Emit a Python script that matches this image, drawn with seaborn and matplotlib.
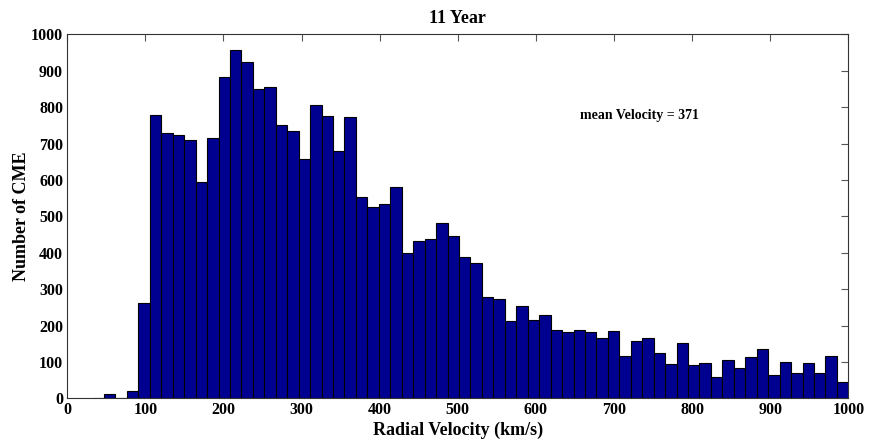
import numpy as np
import pandas as pd
import matplotlib
matplotlib.use('Agg')
import matplotlib.pyplot as plt
import seaborn as sns

# histogram counts (66 bins, 32.4 .. 1000 km/s)
counts = [2, 12, 2, 19, 263, 777, 728, 724, 710, 594, 715, 882, 957, 925, 850,
          855, 750, 735, 657, 807, 776, 679, 772, 554, 525, 533, 580, 399, 431,
          438, 482, 446, 387, 373, 277, 273, 212, 254, 216, 230, 187, 183, 187,
          181, 165, 186, 116, 157, 165, 124, 94, 151, 91, 96, 58, 106, 84, 113,
          136, 63, 101, 70, 96, 70, 116, 45]
bin_lo = 32.4
bin_hi = 1000.0
mean_velocity = 371
x_ticks = list(range(0, 1001, 100))
y_ticks = list(range(0, 1001, 100))

edges = np.linspace(bin_lo, bin_hi, len(counts) + 1)
df = pd.DataFrame({'velocity': (edges[:-1] + edges[1:]) / 2, 'count': counts})

sns.set_style('white')
plt.rcParams['font.family'] = ['Liberation Serif', 'DejaVu Serif']
plt.rcParams['font.weight'] = 'bold'
plt.rcParams['text.color'] = 'black'
plt.rcParams['axes.labelcolor'] = 'black'

fig = plt.figure(figsize=(8.75, 4.41), dpi=100)
ax = fig.add_axes([0.0769, 0.0968, 0.8926, 0.8254])

sns.histplot(data=df, x='velocity', weights='count', bins=len(counts),
             binrange=(bin_lo, bin_hi), ax=ax,
             color='#000090', alpha=1.0, edgecolor='black', linewidth=0.8)

ax.set_xlim(0, 1000)
ax.set_ylim(0, 1000)
ax.set_xticks(x_ticks)
ax.set_yticks(y_ticks)
ax.tick_params(direction='in', length=5, width=0.8, top=True, right=True,
               labelsize=11.5, colors='#555555', labelcolor='black', pad=3)
for lab in ax.get_xticklabels() + ax.get_yticklabels():
    lab.set_fontweight('bold')
for s in ax.spines.values():
    s.set_color('#333333')
    s.set_linewidth(0.8)

ax.set_xlabel('Radial Velocity (km/s)', fontsize=13, fontweight='bold', labelpad=2.5)
ax.set_ylabel('Number of CME', fontsize=13, fontweight='bold', labelpad=0.5)
ax.set_title('11 Year', fontsize=13, fontweight='bold', pad=8)
ax.text(656, 778, f'mean Velocity = {mean_velocity}', fontsize=10, fontweight='bold',
        va='center', ha='left')

fig.savefig('out.png', dpi=100)
